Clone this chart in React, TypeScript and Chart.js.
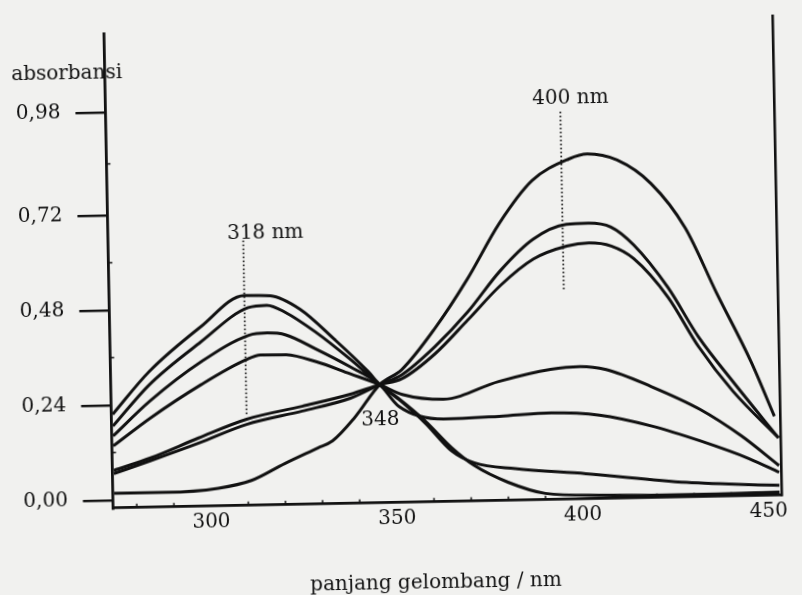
import React, { useEffect, useRef } from "react";
import { Chart, registerables } from "chart.js";

Chart.register(...registerables);

// ---- data (wavelength in nm, absorbance) ----
const s1Nm = [274, 284, 298, 310, 317, 325, 334, 343, 346, 351, 358, 365, 371, 380, 390, 405, 432, 453];
const s1Abs = [0.217, 0.323, 0.433, 0.511, 0.509, 0.473, 0.396, 0.312, 0.279, 0.243, 0.185, 0.116, 0.07, 0.026, -0.004, -0.011, -0.014, -0.012];

const s2Nm = [274, 284, 298, 311, 316, 321, 329, 338, 346, 351, 358, 365, 371, 382, 401, 428, 453];
const s2Abs = [0.187, 0.29, 0.395, 0.48, 0.485, 0.466, 0.415, 0.346, 0.279, 0.241, 0.18, 0.108, 0.077, 0.06, 0.044, 0.017, 0.005];

const s3Nm = [274, 284, 298, 311, 316, 321, 329, 338, 346, 351, 363, 378, 392, 405, 419, 432, 445, 453];
const s3Abs = [0.162, 0.248, 0.345, 0.41, 0.415, 0.409, 0.372, 0.326, 0.279, 0.223, 0.189, 0.193, 0.199, 0.191, 0.161, 0.121, 0.074, 0.038];

const s4Nm = [274, 284, 298, 310, 314, 321, 329, 338, 346, 352, 363, 378, 392, 400, 407, 419, 432, 443, 453];
const s4Abs = [0.137, 0.205, 0.288, 0.348, 0.36, 0.359, 0.34, 0.308, 0.279, 0.253, 0.239, 0.281, 0.309, 0.315, 0.306, 0.261, 0.201, 0.132, 0.055];

const s5Nm = [274, 284, 297, 310, 325, 338, 346, 352, 361, 370, 379, 388, 397, 403, 409, 415, 424, 432, 441, 453];
const s5Abs = [0.075, 0.105, 0.153, 0.198, 0.228, 0.256, 0.279, 0.293, 0.354, 0.438, 0.524, 0.589, 0.62, 0.627, 0.618, 0.585, 0.486, 0.359, 0.245, 0.125];

const s6Nm = [274, 284, 297, 310, 325, 338, 346, 352, 361, 370, 379, 388, 397, 403, 409, 415, 424, 432, 441, 453];
const s6Abs = [0.067, 0.098, 0.14, 0.185, 0.216, 0.246, 0.279, 0.303, 0.372, 0.458, 0.561, 0.639, 0.675, 0.677, 0.666, 0.62, 0.511, 0.384, 0.27, 0.125];

const s7Nm = [274, 288, 302, 311, 320, 329, 333, 339, 346, 352, 361, 370, 379, 388, 398, 403, 411, 420, 429, 437, 446, 452];
const s7Abs = [0.017, 0.017, 0.025, 0.043, 0.084, 0.122, 0.139, 0.196, 0.279, 0.316, 0.417, 0.54, 0.681, 0.787, 0.84, 0.852, 0.835, 0.774, 0.66, 0.496, 0.319, 0.18];

const xTickValues = [300, 350, 400, 450];
const xTickLabels = ["300", "350", "400", "450"];
const yTickValues = [0, 0.24, 0.48, 0.72, 0.98];
const yTickLabels = ["0,00", "0,24", "0,48", "0,72", "0,98"];
const xMinorTicks = [280, 290, 310, 320, 330, 340, 360, 370, 380, 390, 410, 420, 430, 440];
const yMinorTicks = [0.12, 0.36, 0.6, 0.85];

const markerNm = [310, 396];
const markerLow = [0.21, 0.51];
const markerHigh = [0.65, 0.96];
const markerLabels = ["318 nm", "400 nm"];
const isoNm = 346;
const isoAbs = 0.279;
const isoLabel = "348";

const xTitle = "panjang gelombang / nm";
const yTitle = "absorbansi";

const INK = "#111111";
const FAMILY = "'DejaVu Serif', 'Liberation Serif', serif";

const seriesList: [number[], number[]][] = [
  [s1Nm, s1Abs],
  [s2Nm, s2Abs],
  [s3Nm, s3Abs],
  [s4Nm, s4Abs],
  [s5Nm, s5Abs],
  [s6Nm, s6Abs],
  [s7Nm, s7Abs],
];

const annotPlugin = {
  id: "annot",
  afterDraw(chart: any) {
    const { ctx, chartArea: a, scales } = chart;
    const x = scales.x;
    const y = scales.y;
    ctx.save();
    ctx.strokeStyle = INK;
    ctx.lineCap = "butt";
    // right border of the frame
    ctx.lineWidth = 2.6;
    ctx.beginPath();
    ctx.moveTo(a.right, a.top - 6);
    ctx.lineTo(a.right, a.bottom + 1);
    ctx.stroke();
    // minor ticks
    ctx.lineWidth = 1.5;
    xMinorTicks.forEach((v) => {
      const px = x.getPixelForValue(v);
      ctx.beginPath();
      ctx.moveTo(px, a.bottom);
      ctx.lineTo(px, a.bottom - 4);
      ctx.stroke();
    });
    yMinorTicks.forEach((v) => {
      const py = y.getPixelForValue(v);
      ctx.beginPath();
      ctx.moveTo(a.left, py);
      ctx.lineTo(a.left + 4, py);
      ctx.stroke();
    });
    // dotted peak markers
    ctx.setLineDash([1.5, 2.5]);
    ctx.lineWidth = 1.8;
    markerNm.forEach((v, i) => {
      const px = x.getPixelForValue(v);
      ctx.beginPath();
      ctx.moveTo(px, y.getPixelForValue(markerHigh[i]));
      ctx.lineTo(px, y.getPixelForValue(markerLow[i]));
      ctx.stroke();
    });
    ctx.setLineDash([]);
    // texts
    ctx.fillStyle = INK;
    ctx.font = `20px ${FAMILY}`;
    ctx.textBaseline = "alphabetic";
    ctx.textAlign = "left";
    const offsets = [
      [-16, -2],
      [-28, -8],
    ];
    markerNm.forEach((v, i) => {
      const px = x.getPixelForValue(v);
      const py = y.getPixelForValue(markerHigh[i]);
      ctx.fillText(markerLabels[i], px + offsets[i][0], py + offsets[i][1]);
    });
    ctx.textAlign = "center";
    ctx.textBaseline = "middle";
    ctx.fillText(isoLabel, x.getPixelForValue(isoNm), y.getPixelForValue(isoAbs) + 35);
    ctx.fillText(yTitle, a.left - 38, a.top + 40);
    ctx.fillText(xTitle, (a.left + a.right) / 2 - 13, a.bottom + 81);
    ctx.restore();
  },
};

export default function App() {
  const canvasRef = useRef<HTMLCanvasElement | null>(null);

  useEffect(() => {
    const canvas = canvasRef.current;
    if (!canvas) return;
    const chart = new Chart(canvas, {
      type: "line",
      data: {
        datasets: seriesList.map(([xs, ys]) => ({
          data: xs.map((v, i) => ({ x: v, y: ys[i] })),
          borderColor: INK,
          borderWidth: 3,
          pointRadius: 0,
          fill: false,
          cubicInterpolationMode: "monotone" as const,
        })),
      },
      options: {
        animation: false,
        responsive: false,
        maintainAspectRatio: false,
        layout: { padding: { top: 20.5, right: 24.7, left: 0, bottom: 0 } },
        plugins: { legend: { display: false }, tooltip: { enabled: false } },
        scales: {
          x: {
            type: "linear",
            min: 273.6,
            max: 453.6,
            afterBuildTicks: (scale: any) => {
              scale.ticks = xTickValues.map((v) => ({ value: v }));
            },
            afterFit: (scale: any) => {
              scale.height = 93.3;
            },
            grid: { drawOnChartArea: false, drawTicks: false },
            border: { display: true, color: INK, width: 2.8 },
            ticks: {
              autoSkip: false,
              maxRotation: 0,
              padding: 4,
              color: INK,
              font: { family: FAMILY, size: 20 },
              callback: (v: any) => {
                const k = xTickValues.indexOf(Number(v));
                return k >= 0 ? xTickLabels[k] : "";
              },
            },
          },
          y: {
            type: "linear",
            min: -0.02,
            max: 1.18,
            afterBuildTicks: (scale: any) => {
              scale.ticks = yTickValues.map((v) => ({ value: v }));
            },
            afterFit: (scale: any) => {
              scale.width = 108.4;
            },
            grid: {
              drawOnChartArea: false,
              drawTicks: true,
              tickLength: 30,
              color: INK,
              lineWidth: 2.4,
            },
            border: { display: true, color: INK, width: 2.8 },
            ticks: {
              autoSkip: false,
              padding: 15,
              color: INK,
              font: { family: FAMILY, size: 20 },
              callback: (v: any) => {
                const k = yTickValues.indexOf(Number(v));
                return k >= 0 ? yTickLabels[k] : "";
              },
            },
          },
        },
      },
      plugins: [annotPlugin],
    });
    return () => chart.destroy();
  }, []);

  return (
    <div
      style={{
        position: "fixed",
        left: 0,
        top: 0,
        width: 802,
        height: 595,
        background: "#f1f1ef",
        overflow: "hidden",
      }}
    >
      <div
        style={{
          position: "absolute",
          left: 0,
          top: 0,
          width: 802,
          height: 595,
          transform: "rotate(-1.1deg)",
          transformOrigin: "441px 262px",
        }}
      >
        <canvas ref={canvasRef} width={802} height={595} style={{ width: 802, height: 595, display: "block" }} />
      </div>
    </div>
  );
}
